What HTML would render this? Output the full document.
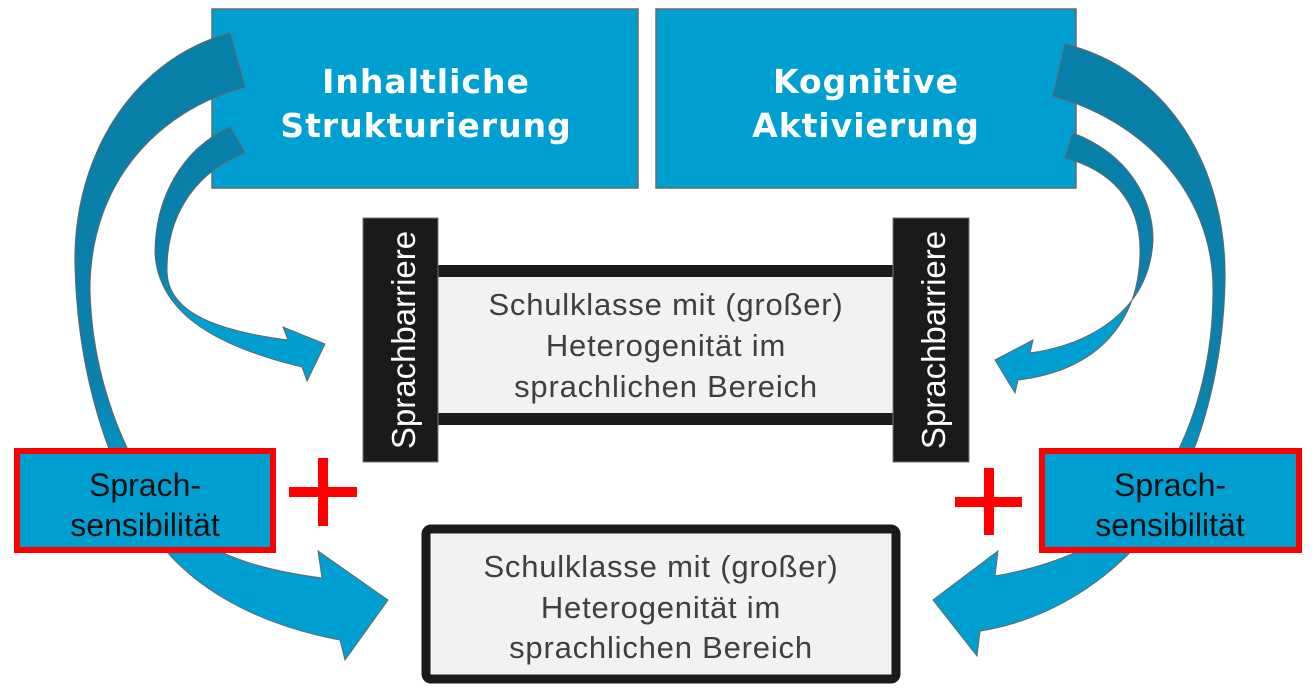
<!DOCTYPE html>
<html><head><meta charset="utf-8"><style>
html,body{margin:0;padding:0;background:#fff;width:1316px;height:693px;overflow:hidden}
svg{display:block}
text{font-family:"Liberation Sans",Arial,sans-serif}
.t{font-family:"DejaVu Sans","Liberation Sans",sans-serif;font-weight:bold;fill:#fff;font-size:33px;letter-spacing:1px}
.g{fill:#3f3f3f;font-size:31px;letter-spacing:0.8px}
</style></head><body>
<svg width="1316" height="693" viewBox="0 0 1316 693" xmlns="http://www.w3.org/2000/svg">
<defs>
<linearGradient id="ag" x1="0" y1="0" x2="0" y2="1">
<stop offset="0" stop-color="#087fa8"/><stop offset="0.55" stop-color="#0a80aa"/><stop offset="0.75" stop-color="#009fd2"/><stop offset="1" stop-color="#009fd2"/>
</linearGradient>
</defs>
<rect x="212" y="9" width="426" height="179" fill="#009fd2" stroke="#6a6a6a" stroke-width="1.5"/>
<rect x="656" y="9" width="420" height="179" fill="#009fd2" stroke="#6a6a6a" stroke-width="1.5"/>
<text class="t" x="426" y="93" text-anchor="middle">Inhaltliche</text>
<text class="t" x="426" y="137" text-anchor="middle">Strukturierung</text>
<text class="t" x="866" y="93" text-anchor="middle">Kognitive</text>
<text class="t" x="866" y="137" text-anchor="middle">Aktivierung</text>

<g fill="url(#ag)" stroke="#666" stroke-width="1">
<path d="M230,33 C130,60 72,160 75,267 C78,380 110,470 150,530 C190,590 260,625 340,640 L345,660 L388,600 L318,551 L322,578 C260,570 210,555 175,520 C120,460 92,370 90,290 C90,180 160,110 245,87 Z"/>
<path d="M230,127 C180,150 155,200 155,253 C158,310 210,345 302,367 L307,381 L325,344 L283,327 L288,340 C210,330 167,310 167,270 C167,210 200,170 245,153 Z"/>
<path d="M1065,44 C1170,70 1228,170 1225,284 C1222,390 1190,480 1150,530 C1110,580 1050,620 980,631 L977,656 L933,600 L998,551 L995,576 C1060,565 1110,540 1140,510 C1190,450 1213,370 1213,290 C1213,190 1140,120 1053,96 Z"/>
<path d="M1073,133 C1130,155 1153,200 1153,240 C1150,310 1090,345 1030,353 L1033,340 L995,360 L1015,393 L1018,380 C1100,370 1140,320 1140,250 C1140,200 1110,170 1065,158 Z"/>
</g>

<rect x="438" y="270" width="455" height="150" fill="#f2f2f2"/>
<rect x="438" y="265" width="455" height="12" fill="#1a1a1a"/>
<rect x="438" y="413" width="455" height="12" fill="#1a1a1a"/>
<rect x="363" y="218" width="75" height="244" fill="#1a1a1a" stroke="#777" stroke-width="1"/>
<rect x="893" y="218" width="76" height="244" fill="#1a1a1a" stroke="#777" stroke-width="1"/>
<text x="415" y="340" fill="#fff" font-size="33" text-anchor="middle" transform="rotate(-90 415 340)">Sprachbarriere</text>
<text x="945" y="340" fill="#fff" font-size="33" text-anchor="middle" transform="rotate(-90 945 340)">Sprachbarriere</text>
<text class="g" x="666" y="315" text-anchor="middle">Schulklasse mit (großer)</text>
<text class="g" x="666" y="356" text-anchor="middle">Heterogenität im</text>
<text class="g" x="666" y="397" text-anchor="middle">sprachlichen Bereich</text>

<rect x="426" y="529" width="470" height="150" rx="5" fill="#f2f2f2" stroke="#1a1a1a" stroke-width="9"/>
<text class="g" x="661" y="577" text-anchor="middle">Schulklasse mit (großer)</text>
<text class="g" x="661" y="618" text-anchor="middle">Heterogenität im</text>
<text class="g" x="661" y="658" text-anchor="middle">sprachlichen Bereich</text>

<rect x="17" y="451" width="256" height="99" fill="#009fd2" stroke="#ff0000" stroke-width="6"/>
<rect x="1042" y="451" width="257" height="99" fill="#009fd2" stroke="#ff0000" stroke-width="6"/>
<text x="145" y="496" font-size="32" fill="#111" text-anchor="middle">Sprach-</text>
<text x="145" y="536" font-size="32" fill="#111" text-anchor="middle">sensibilität</text>
<text x="1170" y="496" font-size="32" fill="#111" text-anchor="middle">Sprach-</text>
<text x="1170" y="536" font-size="32" fill="#111" text-anchor="middle">sensibilität</text>

<rect x="289" y="487" width="68" height="10" fill="#ff0000"/>
<rect x="318" y="458" width="10" height="68" fill="#ff0000"/>
<rect x="955" y="497" width="67" height="10" fill="#ff0000"/>
<rect x="984" y="468" width="10" height="67" fill="#ff0000"/>
</svg>
</body></html>
